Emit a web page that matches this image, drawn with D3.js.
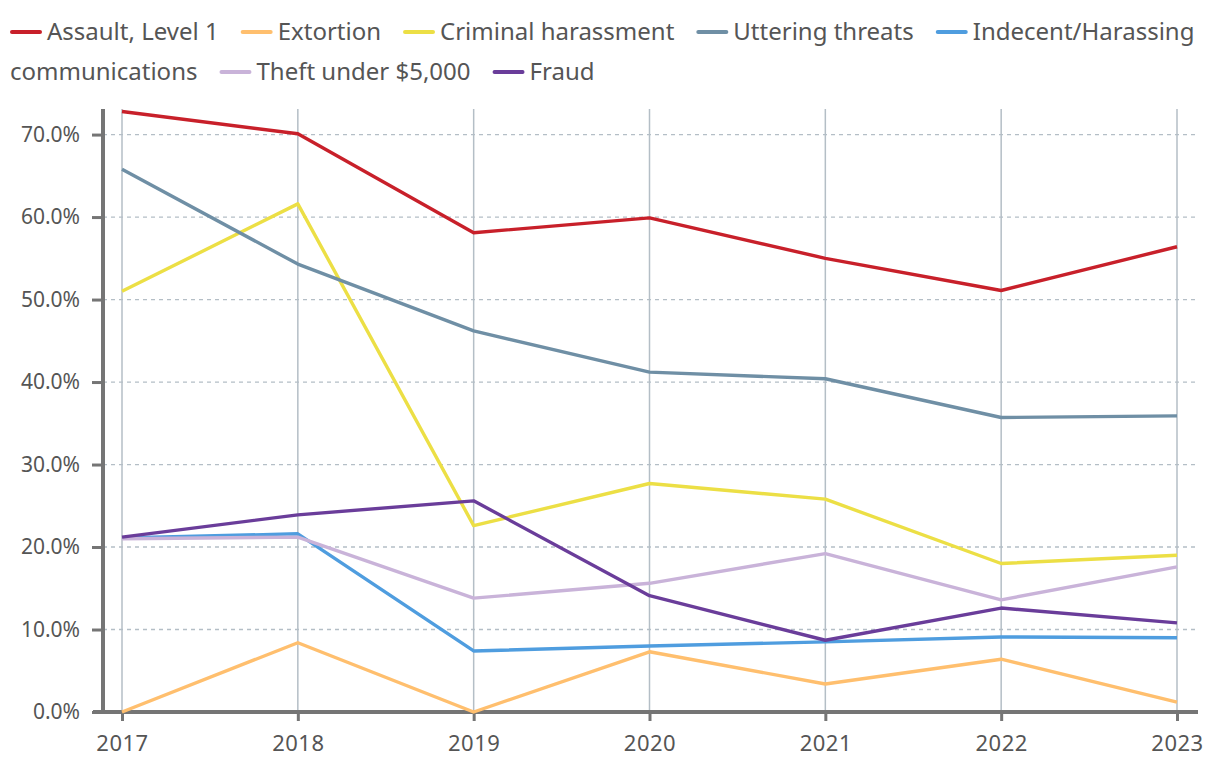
<!DOCTYPE html>
<html><head><meta charset="utf-8">
<script src="https://cdn.jsdelivr.net/npm/d3@7"></script>
<style>
body{margin:0;background:#fff;}
svg text{font-family:"Noto Sans",sans-serif;fill:#555;}
</style></head><body>
<svg id="chart" width="1220" height="772"></svg>
<script>
const years = ["2017","2018","2019","2020","2021","2022","2023"];
const seriesNames = ["Assault, Level 1","Extortion","Criminal harassment","Uttering threats","Indecent/Harassing communications","Theft under $5,000","Fraud"];
const seriesColors = ["#c8202a","#ffbf6e","#ecdf45","#6f8fa5","#4f9ddf","#c9b3d9","#6a3d9a"];
const assault = [72.8,70.1,58.1,59.9,55.0,51.1,56.4];
const extortion = [0,8.4,0,7.3,3.4,6.4,1.2];
const criminalHarassment = [51.0,61.6,22.6,27.7,25.8,18.0,19.0];
const utteringThreats = [65.8,54.3,46.2,41.2,40.4,35.7,35.9];
const indecent = [21.1,21.6,7.4,8.0,8.5,9.1,9.0];
const theft = [21.0,21.2,13.8,15.6,19.2,13.6,17.6];
const fraud = [21.2,23.9,25.6,14.1,8.7,12.6,10.8];
const yTicks = [0,10,20,30,40,50,60,70];

const allValues = [assault,extortion,criminalHarassment,utteringThreats,indecent,theft,fraud];
const svg = d3.select("#chart");
const pLeft=103, pRight=1198, pTop=109, pBottom=712;
const x = d3.scalePoint().domain(years).range([122,1177]);
const y = d3.scaleLinear().domain([0,73.1]).range([pBottom,pTop]);

// horizontal dashed grid
svg.append("g").selectAll("line").data(yTicks.filter(d=>d>0)).join("line")
  .attr("x1",pLeft).attr("x2",pRight).attr("y1",d=>y(d)).attr("y2",d=>y(d))
  .attr("stroke","#b4bec6").attr("stroke-width",1.3).attr("stroke-dasharray","4,4");
// vertical grid
svg.append("g").selectAll("line").data(years).join("line")
  .attr("x1",d=>x(d)).attr("x2",d=>x(d)).attr("y1",pTop).attr("y2",pBottom)
  .attr("stroke","#b4bec6").attr("stroke-width",1.5);

// axes
const yAxis = svg.append("g").attr("transform",`translate(${pLeft},0)`)
  .call(d3.axisLeft(y).tickValues(yTicks).tickFormat(d=>d.toFixed(1)+"%").tickSize(11).tickPadding(12));
yAxis.select(".domain").attr("stroke","#757575").attr("stroke-width",4).attr("d",`M0,${pTop}V${pBottom}`);
yAxis.selectAll(".tick line").attr("stroke","#757575").attr("stroke-width",3);
yAxis.selectAll(".tick text").style("font-size","21px").attr("fill","#666");

const xAxis = svg.append("g").attr("transform",`translate(0,${pBottom})`)
  .call(d3.axisBottom(x).tickSize(9).tickPadding(14));
xAxis.select(".domain").attr("stroke","#757575").attr("stroke-width",4).attr("d",`M${pLeft-10},0H${pRight}`);
xAxis.selectAll(".tick line").attr("stroke","#757575").attr("stroke-width",3);
xAxis.selectAll(".tick text").style("font-size","22px").style("letter-spacing","0.5px").attr("fill","#666");

// lines
const line = d3.line().x((d,i)=>x(years[i])).y(d=>y(d));
svg.append("g").selectAll("path").data(allValues).join("path")
  .attr("d",line).attr("fill","none")
  .attr("stroke",(d,i)=>seriesColors[i]).attr("stroke-width",3.4)
  .attr("stroke-linejoin","round");

// legend flow layout
const lg = svg.append("g");
const fontSize=24, lx0=10, maxX=1212;
let lx=lx0, ly=32;
const measure = (t)=>{const n=lg.append("text").style("font-size",fontSize+"px").text(t);const w=n.node().getComputedTextLength();n.remove();return w;};
const addText=(tx,t)=>lg.append("text").attr("x",tx).attr("y",ly).attr("dy","0.33em").style("font-size",fontSize+"px").attr("fill","#555").text(t);
seriesNames.forEach((name,i)=>{
  if (lx+37+measure(name.split(" ")[0])>maxX){lx=lx0;ly+=40;}
  lg.append("line").attr("x1",lx+2).attr("x2",lx+30).attr("y1",ly).attr("y2",ly)
    .attr("stroke",seriesColors[i]).attr("stroke-width",4).attr("stroke-linecap","round");
  lx+=37;
  const words=name.split(" ");
  let cur="";
  words.forEach(w=>{
    const test = cur?cur+" "+w:w;
    if (cur && lx+measure(test)>maxX){
      addText(lx,cur);
      lx=lx0; ly+=40; cur=w;
    } else cur=test;
  });
  addText(lx,cur);
  lx+=measure(cur)+22;
});
</script>
</body></html>
